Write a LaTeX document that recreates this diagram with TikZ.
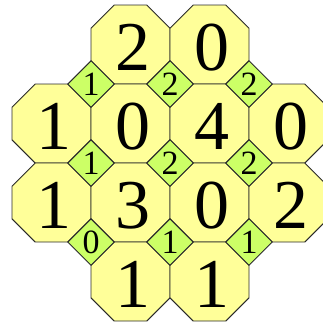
\documentclass[tikz,border=0pt]{standalone}
\usepackage{fontspec}
\setmainfont{Liberation Serif}
\usetikzlibrary{calc}
\definecolor{cellyellow}{HTML}{FFFF99}
\definecolor{clugreen}{HTML}{CCFF66}
\definecolor{edgegray}{HTML}{2A2A2A}
\tikzset{
  octoline/.style={draw=edgegray, line width=0.9pt, fill=cellyellow, line join=miter},
  clueline/.style={draw=edgegray, line width=0.9pt, fill=clugreen},
  bignum/.style={inner sep=0pt, font=\fontsize{70}{70}\selectfont, xshift=2pt, yshift=-3pt},
  smallnum/.style={inner sep=0pt, font=\fontsize{34}{34}\selectfont, yshift=-0.5pt}
}
\newcommand{\octocell}[3]{% center x, center y, name
  \coordinate (#3) at (#1,#2);
  \path[octoline] ($(#3)+(-16.36,-39.5)$) -- ($(#3)+(16.36,-39.5)$) -- ($(#3)+(39.5,-16.36)$)
    -- ($(#3)+(39.5,16.36)$) -- ($(#3)+(16.36,39.5)$) -- ($(#3)+(-16.36,39.5)$)
    -- ($(#3)+(-39.5,16.36)$) -- ($(#3)+(-39.5,-16.36)$) -- cycle;}
\newcommand{\cluediamond}[3]{% center x, center y, name
  \coordinate (#3) at (#1,#2);
  \path[clueline] ($(#3)+(0,-23.14)$) -- ($(#3)+(23.14,0)$) -- ($(#3)+(0,23.14)$)
    -- ($(#3)+(-23.14,0)$) -- cycle;}
\begin{document}
\begin{tikzpicture}[x=1pt,y=-1pt]
\useasboundingbox (0,0) rectangle (323,322);
\clip (0,0) rectangle (323,322);
% octagon cells
\octocell{130.5}{44.5}{c01}
\octocell{209.5}{44.5}{c02}
\octocell{51.5}{123.5}{c10}
\octocell{130.5}{123.5}{c11}
\octocell{209.5}{123.5}{c12}
\octocell{288.5}{123.5}{c13}
\octocell{51.5}{202.5}{c20}
\octocell{130.5}{202.5}{c21}
\octocell{209.5}{202.5}{c22}
\octocell{288.5}{202.5}{c23}
\octocell{130.5}{281.5}{c31}
\octocell{209.5}{281.5}{c32}
% numbers in cells
\node[bignum] (n01) at (c01) {2};
\node[bignum] (n02) at (c02) {0};
\node[bignum] (n10) at (c10) {1};
\node[bignum] (n11) at (c11) {0};
\node[bignum] (n12) at (c12) {4};
\node[bignum] (n13) at (c13) {0};
\node[bignum] (n20) at (c20) {1};
\node[bignum] (n21) at (c21) {3};
\node[bignum] (n22) at (c22) {0};
\node[bignum] (n23) at (c23) {2};
\node[bignum] (n31) at (c31) {1};
\node[bignum] (n32) at (c32) {1};
% diamond clues
\cluediamond{91}{84}{d00}
\cluediamond{170}{84}{d01}
\cluediamond{249}{84}{d02}
\cluediamond{91}{163}{d10}
\cluediamond{170}{163}{d11}
\cluediamond{249}{163}{d12}
\cluediamond{91}{242}{d20}
\cluediamond{170}{242}{d21}
\cluediamond{249}{242}{d22}
\node[smallnum] (s00) at (d00) {1};
\node[smallnum] (s01) at (d01) {2};
\node[smallnum] (s02) at (d02) {2};
\node[smallnum] (s10) at (d10) {1};
\node[smallnum] (s11) at (d11) {2};
\node[smallnum] (s12) at (d12) {2};
\node[smallnum] (s20) at (d20) {0};
\node[smallnum] (s21) at (d21) {1};
\node[smallnum] (s22) at (d22) {1};
\end{tikzpicture}
\end{document}
